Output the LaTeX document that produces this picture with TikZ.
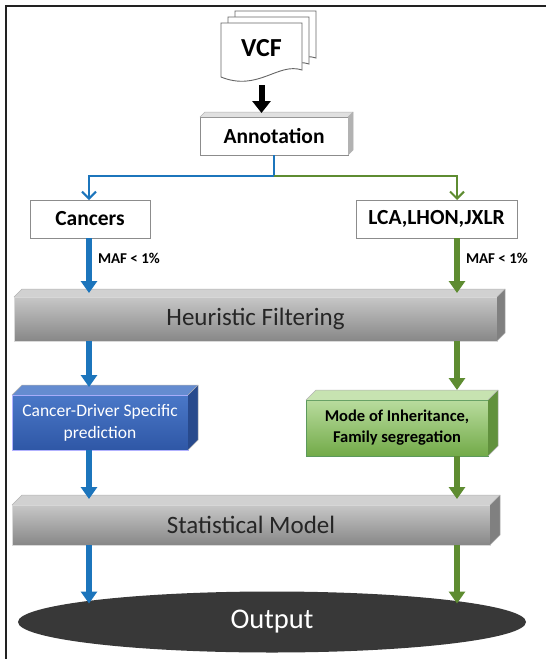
\documentclass[tikz,border=0pt]{standalone}
\usepackage{fontspec}
\setmainfont{Carlito}
\usetikzlibrary{arrows.meta,calc,shapes.geometric}
\definecolor{bl}{HTML}{1C75BC}
\definecolor{gr}{HTML}{5E8C31}
\definecolor{frame}{HTML}{222222}
\definecolor{HTML3F6BC0}{HTML}{4A78C8}
\definecolor{HTML2E56A8}{HTML}{2F57A6}
\definecolor{HTMLB4D99A}{HTML}{B9DC9E}
\definecolor{HTML76AE4C}{HTML}{72AA48}
\tikzset{
  every node/.style={inner sep=0pt, outer sep=0pt},
  whitebox/.style={draw=black!45, line width=0.9pt, fill=white, anchor=north west,
    font=\bfseries\fontsize{21.5}{23}\selectfont},
  graybar/.style={draw=black!15, line width=0.6pt, top color=black!22, bottom color=black!47,
    anchor=north west, font=\fontsize{25}{27}\selectfont, text=black!85},
  bluebox/.style={draw=white!70!blue, line width=0.6pt, top color=HTML3F6BC0, bottom color=HTML2E56A8,
    anchor=north west, align=center, text=white, font=\fontsize{17.5}{22}\selectfont},
  greenbox/.style={draw=white!60!green!60!black, line width=0.6pt, top color=HTMLB4D99A, bottom color=HTML76AE4C,
    anchor=north west, align=center, text=black, font=\bfseries\fontsize{16.5}{21}\selectfont},
  fatarrow/.style={line width=6pt, -{Triangle[width=16pt,length=12pt]}},
  thinarrow/.style={line width=2pt, -{Straight Barb[length=7pt,width=14pt,line width=2pt]}},
  maf/.style={anchor=west, font=\bfseries\fontsize{15}{17}\selectfont},
}
% faces of a 3D box: node, depth, top colour, side colour
\newcommand{\boxfaces}[4]{%
  \fill[#3] (#1.north west) -- ++(#2,-#2) -- ($(#1.north east)+(#2,-#2)$) -- (#1.north east) -- cycle;
  \fill[#4] (#1.north east) -- ++(#2,-#2) -- ($(#1.south east)+(#2,-#2)$) -- (#1.south east) -- cycle;
  \draw[black!30, line width=0.5pt] (#1.north west) -- ++(#2,-#2) -- ($(#1.north east)+(#2,-#2)$) -- ($(#1.south east)+(#2,-#2)$) -- (#1.south east);
  \draw[black!30, line width=0.5pt] (#1.north east) -- ++(#2,-#2);
}
\begin{document}
\begin{tikzpicture}[x=1pt,y=-1pt]
\useasboundingbox (0,0) rectangle (546,659);
\fill[white] (0,0) rectangle (546,659);
% frame
\draw[frame, line width=2.2pt] (6,659) -- (6,6) -- (546,6);

% VCF pages
\foreach \dx/\dy in {14/-12,7/-6,0/0}{
  \draw[black!60, fill=white, line width=0.9pt, shift={(\dx,\dy)}]
    (221,23) -- (302,23) -- (302,70) .. controls (278,62) and (258,92) .. (221,77) -- cycle;
}
\node[anchor=north west, minimum width=81pt, minimum height=50pt, font=\bfseries\fontsize{26}{28}\selectfont] (vcf) at (221,23) {VCF};

% annotation
\node[whitebox, minimum width=148pt, minimum height=38pt] (annot) at (200,117) {Annotation};
\boxfaces{annot}{5}{black!12}{black!30}

\draw[fatarrow, black, -{Triangle[width=18pt,length=12pt]}] ($(vcf.south)+(0,12)$) -- ($(vcf.south |- annot.north)+(0,-4)$);

% branches
\node[whitebox, minimum width=120pt, minimum height=38pt] (cancers) at (30,200) {Cancers};
\node[whitebox, minimum width=161pt, minimum height=38pt] (lca) at (356,200) {LCA,LHON,JXLR};
\coordinate (split) at ($(annot.south)+(0,21)$);
\coordinate (bx) at (89,0);
\coordinate (gx) at (457,0);
\draw[bl, line width=2pt] (annot.south) -- (split);
\draw[bl, thinarrow] (split) -| (bx |- cancers.north);
\draw[gr, thinarrow] (split) -| (gx |- lca.north);

% heuristic bar
\node[graybar, minimum width=483pt, minimum height=44pt] (heur) at (14,297) {Heuristic Filtering};
\boxfaces{heur}{8}{black!18}{black!50}

\draw[bl, fatarrow] (bx |- cancers.south) -- ($(bx |- heur.north)+(0,-4)$);
\draw[gr, fatarrow] (gx |- lca.south) -- ($(gx |- heur.north)+(0,-4)$);
\node[maf] (maf1) at (98,258) {MAF < 1\%};
\node[maf] (maf2) at (466,258) {MAF < 1\%};

% specific boxes
\node[bluebox, minimum width=176pt, minimum height=55pt] (cdriver) at (12,395) {Cancer-Driver Specific\\prediction};
\boxfaces{cdriver}{10}{HTML3F6BC0!85!white}{HTML2E56A8!85!black}
\node[greenbox, minimum width=182pt, minimum height=56pt] (moi) at (306,400) {Mode of Inheritance,\\Family segregation};
\boxfaces{moi}{10}{HTMLB4D99A!80!white}{HTML76AE4C!85!black}

\draw[bl, fatarrow] (bx |- heur.south) -- ($(bx |- cdriver.north)+(0,-8)$);
\draw[gr, fatarrow] (gx |- heur.south) -- ($(gx |- moi.north)+(0,-10)$);

% statistical model
\node[graybar, minimum width=478pt, minimum height=40pt] (stat) at (12,505) {Statistical Model};
\boxfaces{stat}{10}{black!18}{black!50}

\draw[bl, fatarrow] (bx |- cdriver.south) -- ($(bx |- stat.north)+(0,-6)$);
\draw[gr, fatarrow] (gx |- moi.south) -- ($(gx |- stat.north)+(0,-6)$);

% output
\node[ellipse, fill=black!78, minimum width=508pt, minimum height=61pt, text=white,
  font=\fontsize{28.5}{30}\selectfont] (out) at (272,622) {Output};
\draw[bl, fatarrow] (bx |- stat.south) -- ($(bx |- out.north)+(0,12)$);
\draw[gr, fatarrow] (gx |- stat.south) -- ($(gx |- out.north)+(0,12)$);
\end{tikzpicture}
\end{document}
